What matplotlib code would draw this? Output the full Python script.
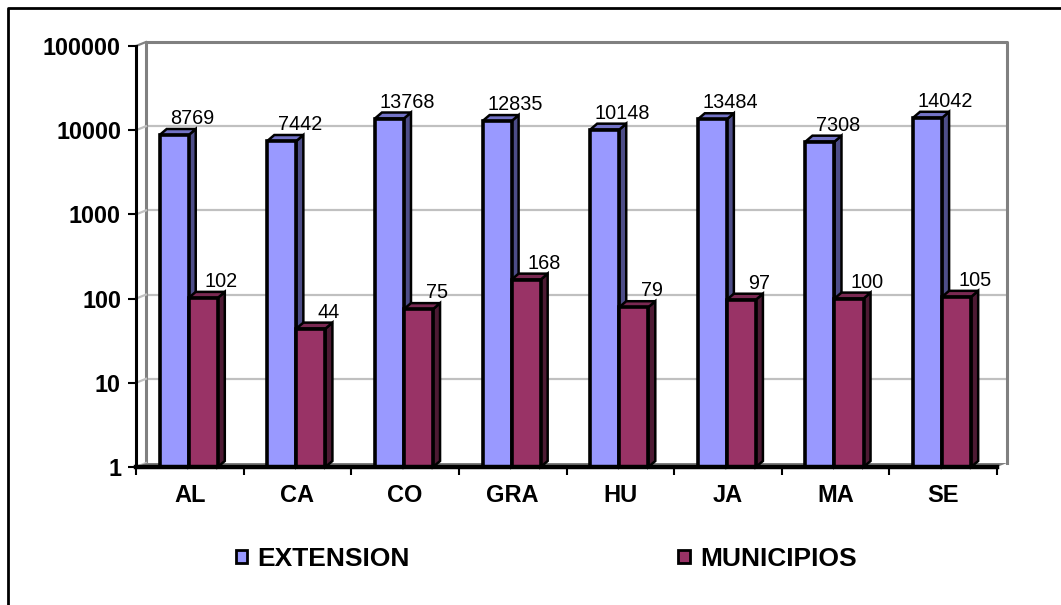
import numpy as np
import matplotlib
matplotlib.use("Agg")
import matplotlib.pyplot as plt
from matplotlib.patches import Polygon, Patch
from matplotlib.lines import Line2D
from matplotlib.transforms import ScaledTranslation, IdentityTransform
from matplotlib.ticker import FixedLocator, NullLocator, FuncFormatter

provinces = ["AL", "CA", "CO", "GRA", "HU", "JA", "MA", "SE"]
extension = [8769, 7442, 13768, 12835, 10148, 13484, 7308, 14042]
municipios = [102, 44, 75, 168, 79, 97, 100, 105]
y_ticks = [1, 10, 100, 1000, 10000, 100000]

W, H = 1061, 605
plt.rcParams["font.family"] = ["Liberation Sans", "DejaVu Sans"]

fig = plt.figure(figsize=(W / 100, H / 100), dpi=100)
ax = fig.add_axes([136 / W, 1 - 467 / H, (997 - 136) / W, (467 - 46) / H])
ax.set_yscale("log")
ax.set_ylim(1, 1e5)
ax.set_xlim(-0.5, len(provinces) - 0.5)

# back wall / floor drawn with a small pixel offset to fake the 3D depth
wall_dx, wall_dy = 10, 4
wall = ax.transData + ScaledTranslation(wall_dx / 100, wall_dy / 100, fig.dpi_scale_trans)
xmin, xmax = ax.get_xlim()
for v in y_ticks[1:-1]:
    ax.plot([xmin, xmax], [v, v], transform=wall, color="#c0c0c0", lw=1.6,
            zorder=0.5, clip_on=False)
ax.plot([xmin, xmin, xmax, xmax], [1, 1e5, 1e5, 1], transform=wall,
        color="#808080", lw=2.2, zorder=0.6, clip_on=False)

# left wall diagonals
for v in y_ticks:
    p = ax.transData.transform((xmin, v))
    col = "#808080" if v == 1e5 else "#c0c0c0"
    ax.add_line(Line2D([p[0], p[0] + wall_dx], [p[1], p[1] + wall_dy],
                       transform=IdentityTransform(), color=col, lw=1.6,
                       zorder=0.6, clip_on=False))

# floor
f0 = ax.transData.transform((xmin, 1))
f1 = ax.transData.transform((xmax, 1))
floor = [f0, f1, f1 + [wall_dx, wall_dy], f0 + [wall_dx, wall_dy]]
ax.add_patch(Polygon(floor, closed=True, transform=IdentityTransform(),
                     facecolor="#808080", edgecolor="none", zorder=0.7, clip_on=False))

x = np.arange(len(provinces))
bw = 0.27
dx, dy = 7, 6


def bar3d(xs, vals, front, top, side, z):
    bars = ax.bar(xs, vals, bw, color=front, edgecolor="black", linewidth=2.6,
                  zorder=z + 0.2)
    for rect, v in zip(bars, vals):
        (x0, y0), (x1, y1) = ax.transData.transform(
            [(rect.get_x(), 1), (rect.get_x() + rect.get_width(), v)])
        side_pts = [(x1, y0), (x1 + dx, y0 + dy), (x1 + dx, y1 + dy), (x1, y1)]
        top_pts = [(x0, y1), (x1, y1), (x1 + dx, y1 + dy), (x0 + dx, y1 + dy)]
        ax.add_patch(Polygon(side_pts, closed=True, transform=IdentityTransform(),
                             facecolor=side, edgecolor="black", lw=1.8,
                             zorder=z, clip_on=False))
        ax.add_patch(Polygon(top_pts, closed=True, transform=IdentityTransform(),
                             facecolor=top, edgecolor="black", lw=1.8,
                             zorder=z + 0.1, clip_on=False))
        ax.annotate(str(v), (rect.get_x() + rect.get_width() / 2, v),
                    xytext=(18, 11), textcoords="offset pixels", ha="center",
                    va="baseline", fontsize=14.3, zorder=10)
    return bars


bar3d(x - 0.145, extension, "#9999ff", "#7373c6", "#4d4d88", 3)
bar3d(x + 0.125, municipios, "#993366", "#7a2952", "#4d1a33", 4)

# axes styling
for s in ("top", "right"):
    ax.spines[s].set_visible(False)
ax.spines["left"].set_linewidth(2.2)
ax.spines["bottom"].set_linewidth(3.2)
ax.spines["left"].set_zorder(8)
ax.spines["bottom"].set_zorder(8)

ax.yaxis.set_major_locator(FixedLocator(y_ticks))
ax.yaxis.set_minor_locator(NullLocator())
ax.yaxis.set_major_formatter(FuncFormatter(lambda v, _: f"{v:.0f}"))
ax.tick_params(axis="y", direction="out", length=5.8, width=1.5, pad=5,
               labelsize=16.8)
for lab in ax.get_yticklabels():
    lab.set_fontweight("bold")

ax.set_xticks(np.arange(-0.5, len(provinces), 1))
ax.set_xticklabels([])
ax.set_xticks(x, provinces, minor=True)
ax.tick_params(axis="x", which="major", direction="out", length=5.8, width=1.5)
ax.tick_params(axis="x", which="minor", length=0, pad=12.5, labelsize=17)
for lab in ax.get_xticklabels(minor=True):
    lab.set_fontweight("bold")

handles = [Patch(facecolor="#9999ff", edgecolor="black", lw=2, label="EXTENSION"),
           Patch(facecolor="#993366", edgecolor="black", lw=2, label="MUNICIPIOS")]
fig.legend(handles=handles, loc="center left", bbox_to_anchor=(235.5 / W, 1 - 559 / H),
           ncol=2, frameon=False, borderpad=0, borderaxespad=0, handlelength=0.42,
           handleheight=0.42, handletextpad=0.39, columnspacing=10.2,
           prop=dict(weight="bold", size=19))

# outer frame (only top/left edges fall inside the picture)
fig.add_artist(Line2D([8 / W, 8 / W, 1.01], [-0.01, 1 - 8 / H, 1 - 8 / H],
                      transform=fig.transFigure, color="black", lw=2))

fig.savefig("out.png", dpi=100)
